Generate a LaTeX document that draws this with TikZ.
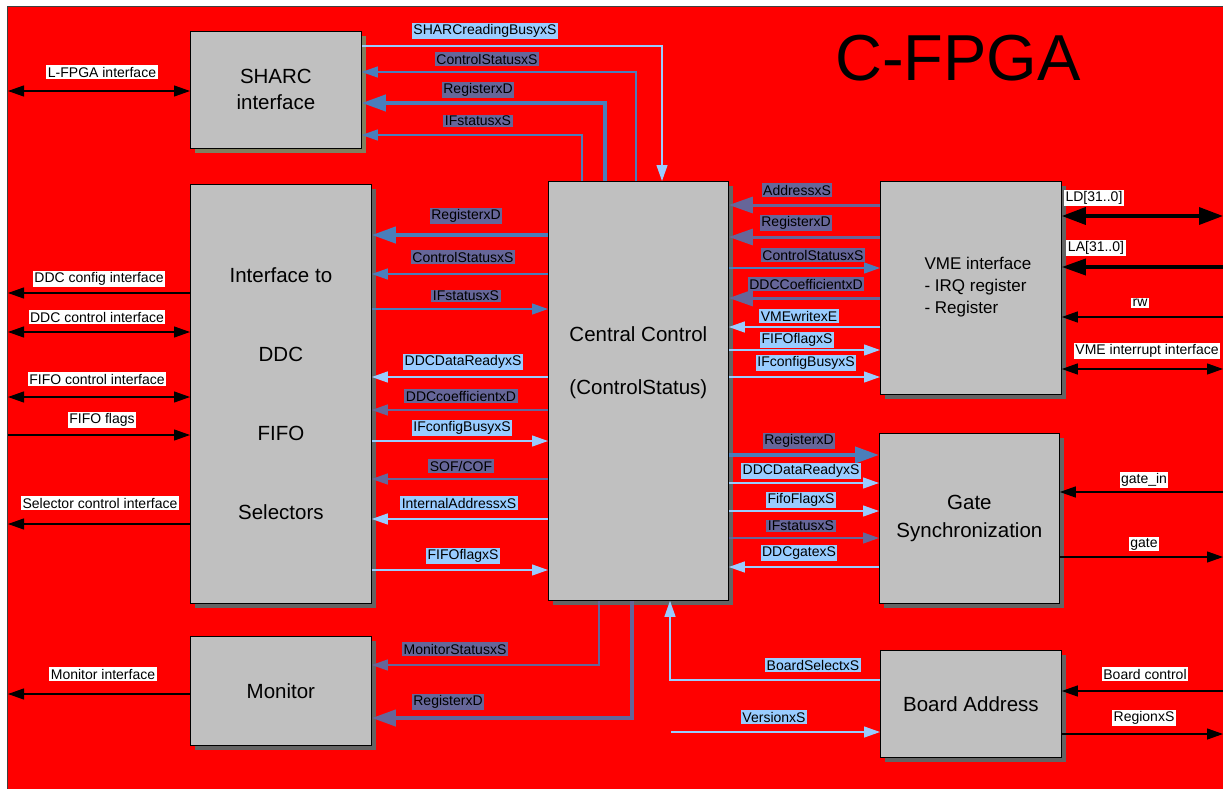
\documentclass[tikz,border=0pt]{standalone}
\usepackage{fontspec}
\setmainfont{Liberation Sans}
\usetikzlibrary{arrows.meta,shadows}

\definecolor{bgred}{RGB}{255,0,0}
\definecolor{boxgray}{RGB}{192,192,192}
\definecolor{shgray}{RGB}{100,100,100}
\definecolor{sholive}{RGB}{128,128,96}
\definecolor{sigblue}{RGB}{74,126,187}
\definecolor{sigslate}{RGB}{102,102,153}
\definecolor{siglight}{RGB}{153,204,255}

\tikzset{
  block/.style={draw=black, line width=0.8pt, fill=boxgray, anchor=north west,
    inner sep=0pt, align=center, font=\fontsize{20.5}{26}\selectfont,
    general shadow={fill=shgray, shadow xshift=5pt, shadow yshift=-5pt}},
  lab/.style={inner sep=1.5pt, font=\fontsize{14}{16}\selectfont, text=black},
  dlab/.style={lab, fill=sigslate},
  llab/.style={lab, fill=siglight},
  wlab/.style={lab, fill=white},
  thinw/.style={line width=1.2pt},
  thickw/.style={line width=4pt},
  midw/.style={line width=3pt},
  ext/.style={black, line width=1.2pt},
  extthick/.style={black, line width=3.5pt},
  tipS/.style={-{Triangle[length=16pt,width=11pt]}},
  tipL/.style={-{Triangle[length=24pt,width=16pt]}},
  dtipS/.style={{Triangle[length=16pt,width=11pt]}-{Triangle[length=16pt,width=11pt]}},
  dtipL/.style={{Triangle[length=24pt,width=17pt]}-{Triangle[length=24pt,width=17pt]}},
}

\begin{document}
\begin{tikzpicture}[x=1pt, y=-1pt]
  \useasboundingbox (0,0) rectangle (1223,789);
  % board area
  \fill[white] (0,0) rectangle (1223,789);
  \fill[bgred] (7,7) rectangle (1223,789);
  \draw[black!75, line width=1pt] (7,789) -- (7,7) -- (1223,7);

  % title
  \node[font=\fontsize{65}{70}\selectfont] (title) at (958,58) {C-FPGA};

  % functional blocks
  \node[block, minimum width=171pt, minimum height=117pt,
        general shadow={fill=sholive, shadow xshift=5pt, shadow yshift=-5pt}]
        (sharc) at (190,31) {SHARC\\interface};
  \node[block, minimum width=181pt, minimum height=419pt,
        font=\fontsize{20.5}{79}\selectfont]
        (iface) at (190,184) {Interface to\\DDC\\FIFO\\Selectors};
  \node[block, minimum width=180pt, minimum height=419pt] (central) at (548,181) {};
  \node[font=\fontsize{20.5}{53}\selectfont, align=center] (ctext)
        at (central.north |- 0,363) {Central Control\\(ControlStatus)};
  \node[block, minimum width=181pt, minimum height=213pt] (vme) at (880,181) {};
  \node[font=\fontsize{17}{22}\selectfont, align=left, anchor=west] (vtext)
        at ([xshift=41pt]vme.west |- 0,287) {VME interface\\- IRQ register\\- Register};
  \node[block, minimum width=180pt, minimum height=170pt,
        font=\fontsize{20.5}{28}\selectfont] (gate) at (879,433) {Gate\\Synchronization};
  \node[block, minimum width=181pt, minimum height=107pt] (board) at (880,650) {Board Address};
  \node[block, minimum width=181pt, minimum height=109pt] (monitor) at (190,636) {Monitor};

  % free ends at the board edges
  \coordinate (lft) at (8,0);
  \coordinate (rgt) at (1223,0);

  % SHARC interface <-> Central Control
  \draw[siglight, thinw, tipS] (sharc.east |- 0,46) -| (central.north -| 662,0);
  \draw[sigblue, thinw, tipS] (central.north -| 636,0) |- (sharc.east |- 0,72);
  \draw[sigblue, thickw, tipL] (central.north -| 605,0) |- (sharc.east |- 0,103);
  \draw[sigblue, thinw, tipS] (central.north -| 582,0) |- (sharc.east |- 0,135);
  \node[llab] (s1) at (485,31) {SHARCreadingBusyxS};
  \node[dlab] (s2) at (487,59) {ControlStatusxS};
  \node[dlab] (s3) at (478,90) {RegisterxD};
  \node[dlab] (s4) at (478,121) {IFstatusxS};

  % Interface to DDC/FIFO/Selectors <-> Central Control
  \draw[sigblue, thickw, tipL] (central.west |- 0,235) -- (iface.east |- 0,235);
  \draw[sigblue, thinw, tipS] (central.west |- 0,274) -- (iface.east |- 0,274);
  \draw[sigblue, thinw, tipS] (iface.east |- 0,309) -- (central.west |- 0,309);
  \draw[siglight, thinw, tipS] (central.west |- 0,377) -- (iface.east |- 0,377);
  \draw[sigslate, thinw, tipS] (central.west |- 0,410) -- (iface.east |- 0,410);
  \draw[siglight, thinw, tipS] (iface.east |- 0,441) -- (central.west |- 0,441);
  \draw[sigslate, thinw, tipS] (central.west |- 0,479) -- (iface.east |- 0,479);
  \draw[siglight, thinw, tipS] (central.west |- 0,519) -- (iface.east |- 0,519);
  \draw[siglight, thinw, tipS] (iface.east |- 0,570) -- (central.west |- 0,570);
  \node[dlab] (i1) at (466,216) {RegisterxD};
  \node[dlab] (i2) at (463,257) {ControlStatusxS};
  \node[dlab] (i3) at (466,296) {IFstatusxS};
  \node[llab] (i4) at (463,362) {DDCDataReadyxS};
  \node[dlab] (i5) at (461,396) {DDCcoefficientxD};
  \node[llab] (i6) at (462,428) {IFconfigBusyxS};
  \node[dlab] (i7) at (461,466) {SOF/COF};
  \node[llab] (i8) at (459,503) {InternalAddressxS};
  \node[llab] (i9) at (463,556) {FIFOflagxS};

  % VME interface <-> Central Control
  \draw[sigslate, midw, tipL] (vme.west |- 0,205) -- (central.east |- 0,205);
  \draw[sigslate, midw, tipL] (vme.west |- 0,237) -- (central.east |- 0,237);
  \draw[sigblue, thinw, tipS] (central.east |- 0,268) -- (vme.west |- 0,268);
  \draw[sigslate, midw, tipL] (vme.west |- 0,298) -- (central.east |- 0,298);
  \draw[siglight, thinw, tipS] (vme.west |- 0,327) -- (central.east |- 0,327);
  \draw[siglight, thinw, tipS] (central.east |- 0,350) -- (vme.west |- 0,350);
  \draw[siglight, thinw, tipS] (central.east |- 0,377) -- (vme.west |- 0,377);
  \node[dlab] (v1) at (797,190) {AddressxS};
  \node[dlab] (v2) at (796,223) {RegisterxD};
  \node[dlab] (v3) at (813,255) {ControlStatusxS};
  \node[dlab] (v4) at (806,284) {DDCCoefficientxD};
  \node[llab] (v5) at (799,316) {VMEwritexE};
  \node[llab] (v6) at (797,340) {FIFOflagxS};
  \node[llab] (v7) at (806,363) {IFconfigBusyxS};

  % Gate Synchronization <-> Central Control
  \draw[sigblue, thickw, tipL] (central.east |- 0,455) -- (gate.west |- 0,455);
  \draw[siglight, thinw, tipS] (central.east |- 0,483) -- (gate.west |- 0,483);
  \draw[siglight, thinw, tipS] (central.east |- 0,511) -- (gate.west |- 0,511);
  \draw[sigslate, thinw, tipS] (central.east |- 0,538) -- (gate.west |- 0,538);
  \draw[siglight, thinw, tipS] (gate.west |- 0,567) -- (central.east |- 0,567);
  \node[dlab] (g1) at (799,441) {RegisterxD};
  \node[llab] (g2) at (801,471) {DDCDataReadyxS};
  \node[llab] (g3) at (801,500) {FifoFlagxS};
  \node[dlab] (g4) at (801,526) {IFstatusxS};
  \node[llab] (g5) at (799,553) {DDCgatexS};

  % Central Control -> Monitor
  \draw[sigslate, thinw, tipS] (central.south -| 599,0) |- (monitor.east |- 0,665);
  \draw[sigslate, thickw, tipL] (central.south -| 632,0) |- (monitor.east |- 0,718);
  \node[dlab] (m1) at (455,649) {MonitorStatusxS};
  \node[dlab] (m2) at (448,702) {RegisterxD};

  % Board Address -> Central Control
  \coordinate (vsrc) at (671,732);
  \draw[siglight, thinw, tipS] (board.west |- 0,680) -| (central.south -| 670,0);
  \draw[siglight, thinw, tipS] (vsrc) -- (board.west |- vsrc);
  \node[llab] (b1) at (813,665) {BoardSelectxS};
  \node[llab] (b2) at (774,717) {VersionxS};

  % external interfaces, left side
  \draw[ext, dtipS] (lft |- 0,91) -- (sharc.west |- 0,91);
  \draw[ext, tipS] (iface.west |- 0,293) -- (lft |- 0,293);
  \draw[ext, dtipS] (lft |- 0,332) -- (iface.west |- 0,332);
  \draw[ext, dtipS] (lft |- 0,397) -- (iface.west |- 0,397);
  \draw[ext, tipS] (lft |- 0,435) -- (iface.west |- 0,435);
  \draw[ext, tipS] (iface.west |- 0,524) -- (lft |- 0,524);
  \draw[ext, tipS] (monitor.west |- 0,694) -- (lft |- 0,694);
  \node[wlab] (e1) at (102,72) {L-FPGA interface};
  \node[wlab] (e2) at (99,279) {DDC config interface};
  \node[wlab] (e3) at (97,317) {DDC control interface};
  \node[wlab] (e4) at (97,379) {FIFO control interface};
  \node[wlab] (e5) at (102,420) {FIFO flags};
  \node[wlab] (e6) at (100,503) {Selector control interface};
  \node[wlab] (e7) at (103,674) {Monitor interface};

  % external interfaces, right side
  \draw[extthick, dtipL] (vme.east |- 0,216) -- (rgt |- 0,216);
  \draw[extthick, tipL] (rgt |- 0,267) -- (vme.east |- 0,267);
  \draw[ext, tipS] (rgt |- 0,317) -- (vme.east |- 0,317);
  \draw[ext, dtipS] (vme.east |- 0,369) -- (rgt |- 0,369);
  \draw[ext, tipS] (rgt |- 0,492) -- (gate.east |- 0,492);
  \draw[ext, tipS] (gate.east |- 0,557) -- (rgt |- 0,557);
  \draw[ext, tipS] (rgt |- 0,691) -- (board.east |- 0,691);
  \draw[ext, tipS] (board.east |- 0,734) -- (rgt |- 0,734);
  \node[wlab] (r1) at (1094,198) {LD[31..0]};
  \node[wlab] (r2) at (1096,248) {LA[31..0]};
  \node[wlab] (r3) at (1140,303) {rw};
  \node[wlab] (r4) at (1147,351) {VME interrupt interface};
  \node[wlab] (r5) at (1144,480) {gate\_in};
  \node[wlab] (r6) at (1144,544) {gate};
  \node[wlab] (r7) at (1145,674) {Board control};
  \node[wlab] (r8) at (1144,718) {RegionxS};
\end{tikzpicture}
\end{document}
